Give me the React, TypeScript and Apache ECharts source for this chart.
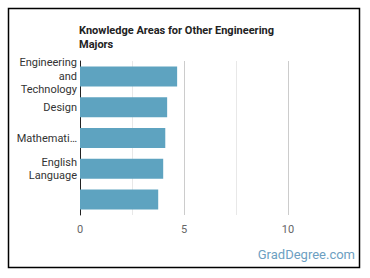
import React, { useEffect, useRef } from "react";
import * as echarts from "echarts";

const categories = ["Engineering and Technology", "Design", "Mathematics", "English Language", ""];
const values = [4.67, 4.19, 4.1, 4.0, 3.76];
const titleLines = ["Knowledge Areas for Other Engineering", "Majors"];
const xMin = 0;
const xMax = 12.5;
const xStep = 2.5;
const labelFont = "11px Roboto";
const labelWidth = 63;

let ctx: CanvasRenderingContext2D | null = null;
function measure(t: string): number {
  if (!ctx) ctx = document.createElement("canvas").getContext("2d");
  if (!ctx) return t.length * 6;
  ctx.font = labelFont;
  return ctx.measureText(t).width;
}
function fit(word: string): string {
  if (measure(word) <= labelWidth) return word;
  let w = word;
  while (w.length > 1 && measure(w + "…") > labelWidth) w = w.slice(0, -1);
  return w + "…";
}
function wrap(name: string): string {
  const words = name.split(" ").filter((w) => w.length);
  const lines: string[] = [];
  let cur = "";
  for (const w of words) {
    const cand = cur ? cur + " " + w : w;
    if (measure(cand) <= labelWidth) cur = cand;
    else {
      if (cur) lines.push(cur);
      cur = fit(w);
    }
  }
  if (cur) lines.push(cur);
  return lines.join("\n");
}

export default function App() {
  const ref = useRef<HTMLDivElement>(null);
  useEffect(() => {
    document.body.style.margin = "0";
    const chart = echarts.init(ref.current!, null, { renderer: "svg" });
    chart.setOption({
      animation: false,
      backgroundColor: "#fff",
      title: {
        text: titleLines.join("\n"),
        left: 79,
        top: 23,
        padding: 0,
        textStyle: { fontFamily: "Roboto", fontSize: 11, fontWeight: "bold", color: "#222", lineHeight: 14 },
      },
      grid: { left: 80, right: 30, top: 61, bottom: 63, containLabel: false },
      xAxis: {
        type: "value",
        min: xMin,
        max: xMax,
        interval: xStep,
        axisLine: { show: false },
        axisTick: { show: false },
        axisLabel: {
          fontFamily: "Roboto",
          fontSize: 11,
          color: "#666",
          margin: 9,
          formatter: (v: number) => (v % 5 === 0 ? String(v) : ""),
        },
        splitLine: {
          show: true,
          showMaxLine: false,
          lineStyle: { color: ["#cccccc", "#e8e8e8"], width: 1 },
        },
      },
      yAxis: {
        type: "category",
        data: categories,
        inverse: true,
        axisLine: { show: true, lineStyle: { color: "#222", width: 1 } },
        axisTick: { show: false },
        axisLabel: {
          fontFamily: "Roboto",
          fontSize: 11,
          color: "#333",
          lineHeight: 13.5,
          margin: 3,
          formatter: (v: string) => wrap(v),
        },
      },
      series: [
        {
          type: "bar",
          data: values,
          barWidth: 20,
          itemStyle: { color: "#5ea3c0" },
        },
      ],
      graphic: [
        {
          type: "rect",
          shape: { x: 8.5, y: 8.5, width: 351, height: 259 },
          style: { fill: "none", stroke: "#000", lineWidth: 1.5 },
          z: 100,
        },
        {
          type: "text",
          right: 15,
          top: 248,
          style: { text: "GradDegree.com", fontFamily: "Roboto", fontSize: 13, fill: "#6d9fc2" },
        },
      ],
    });
    return () => chart.dispose();
  }, []);
  return <div ref={ref} style={{ width: 370, height: 278 }} />;
}
